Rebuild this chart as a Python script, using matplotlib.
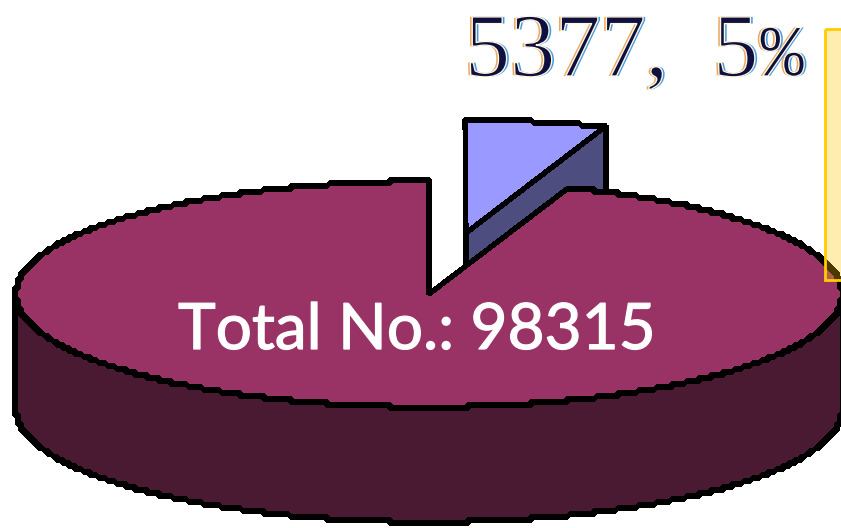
import numpy as np
import matplotlib
matplotlib.use('Agg')
import matplotlib.pyplot as plt
from matplotlib.patches import Polygon, Rectangle
import matplotlib.patheffects as pe

# values
labels = ['rest', 'highlight']
values = [92938, 5377]
total_label = 'Total No.: 98315'
slice_label = '5377,  5'
percent_label = '%'

cx, cy, rx, ry = 429, 294, 413, 113
depth = 115
explode = (37, -61)
step = 3


def snap(a):
    return np.round(np.asarray(a) / step) * step


def arc(t0, t1, off=(0, 0)):
    # angle runs clockwise from 12 o'clock, in degrees
    t = np.radians(np.arange(t0, t1 + 0.25, 0.25))
    x = cx + rx * np.sin(t) + off[0]
    y = cy - ry * np.cos(t) + off[1]
    return np.column_stack([snap(x), snap(y)])


def face(pts, color, zorder, **kw):
    p = Polygon(pts, closed=True, facecolor=color, edgecolor=kw.pop('edge', 'black'),
                linewidth=3.0, joinstyle='bevel', antialiased=False, zorder=zorder, **kw)
    ax.add_patch(p)
    return p


fig = plt.figure(figsize=(8.41, 5.28), dpi=100)
ax = fig.add_axes([0, 0, 1, 1])
ax.set_xlim(0, 841)
ax.set_ylim(528, 0)
ax.axis('off')

sweep = 360 * values[1] / sum(values)

# legend box at the right, cut by the edge of the picture
ax.add_patch(Rectangle((825, 29), 40, 251, facecolor='#FFEDB0', edgecolor='none', zorder=1))

# exploded slice: cut face behind, top face in front
apex = np.array([cx + explode[0], cy + explode[1]])
rim = arc(0, sweep, explode)
cut = np.array([apex, rim[-1], rim[-1] + [0, depth], apex + [0, depth]])
face(cut, '#4D4D80', 2)
face(np.vstack([apex, rim]), '#9999FF', 3)

# main pie, side wall then top
lower = arc(90, 270)
wall = np.vstack([lower, (lower + [0, depth])[::-1]])
face(wall, '#4A1A33', 4)
top = np.vstack([[cx, cy], arc(sweep, 360)])
top_face = face(top, '#993366', 5)

# the box tints what lies under it
clip = Rectangle((825, 29), 40, 251, transform=ax.transData)
tint = face(top, '#B0604F', 6, edge='#4A3A00')
tint.set_clip_path(clip)
ax.add_patch(Rectangle((825, 29), 40, 251, facecolor='none', edgecolor='#FFCC00',
                       linewidth=2.0, zorder=7))

ax.text(178, 349, total_label, family='Lato', fontsize=46, color='white',
        ha='left', va='baseline', zorder=8,
        path_effects=[pe.Stroke(linewidth=0.9, foreground='white')])

# thin bitmap look: coloured fringes, then a white stroke eats into the glyphs
thin = [pe.withSimplePatchShadow(offset=(-1.6, 0), shadow_rgbFace='#E8A050', alpha=0.9),
        pe.withSimplePatchShadow(offset=(1.6, 0), shadow_rgbFace='#3090E0', alpha=0.9),
        pe.Stroke(linewidth=1.0, foreground='#FFF8E0')]
ax.text(465, 76, slice_label, family='Liberation Serif', fontsize=65, color='#101040',
        ha='left', va='baseline', zorder=8, path_effects=thin)
ax.text(760, 76, percent_label, family='Liberation Mono', fontsize=53, color='#101040',
        ha='left', va='baseline', zorder=8, path_effects=thin)

fig.savefig('out.png', dpi=100)
